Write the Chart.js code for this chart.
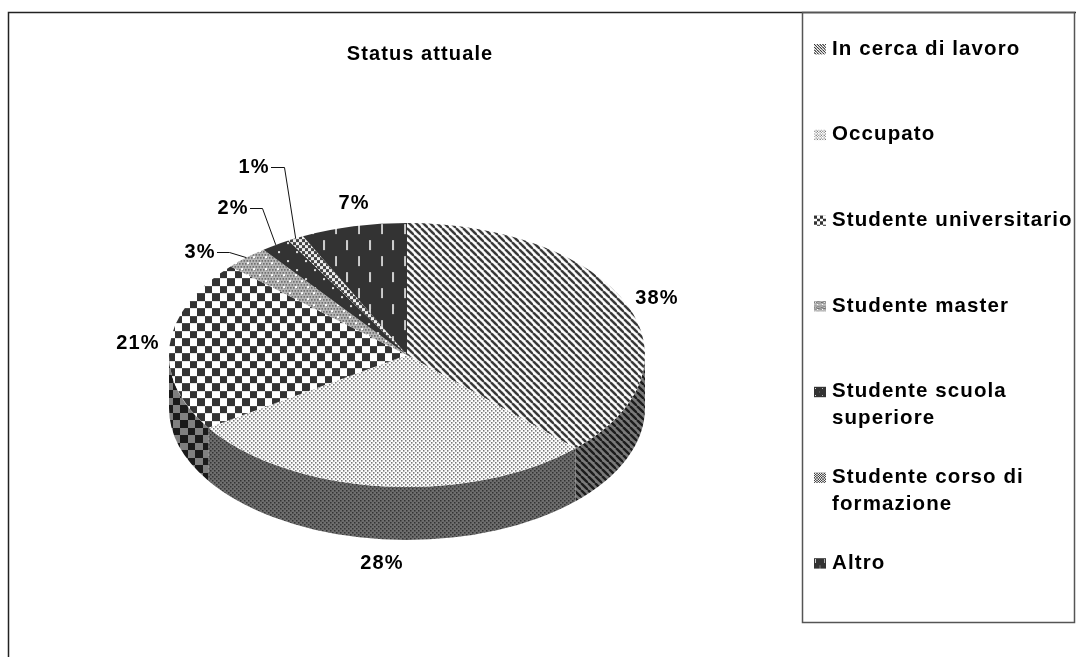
<!DOCTYPE html>
<html>
<head>
<meta charset="utf-8">
<title>Status attuale</title>
<script src="https://cdn.jsdelivr.net/npm/chart.js@4"></script>
<style>
  html, body { margin:0; padding:0; background:#fff; }
  canvas { display:block; }
</style>
</head>
<body>
<canvas id="chart" width="1076" height="657"></canvas>
<script>
/* ----------------- Data ----------------- */
const categories = ["In cerca di lavoro","Occupato","Studente universitario","Studente master","Studente scuola superiore","Studente corso di formazione","Altro"];
const values = [37.5,28.25,21,3,2,1.1,7.2];
const chartTitle = "Status attuale";

/* ----------------- Layout ----------------- */
const PIE = { cx:407, cy:355, rx:238, ry:132, depth:53 };
const FLAT = PIE.ry / PIE.rx;
const labelPos = [[657,298],[382,563],[138,343],[200,252],[233,208],[254,167],[354,203]];
const leaderElbow = { 3:229, 4:262, 5:284 };
const FAMILY = "'Liberation Sans', Arial, sans-serif";
const LABEL_FONT = "bold 20px " + FAMILY;
const LEGEND_FONT = "bold 20.5px " + FAMILY;

/* ----------------- Patterns ----------------- */
function tile(w, paint, h) {
  const c = document.createElement("canvas");
  c.width = w; c.height = h || w;
  paint(c.getContext("2d"), w);
  return c;
}
function stripes(dark, light) {
  return tile(7, (g, s) => {
    g.fillStyle = light; g.fillRect(0,0,s,s);
    g.strokeStyle = dark; g.lineWidth = 2.4;
    [-s,0,s].forEach(o => { g.beginPath(); g.moveTo(o,0); g.lineTo(o+s,s); g.stroke(); });
  });
}
function dots(dark, light) {
  return tile(4, (g, s) => {
    g.fillStyle = light; g.fillRect(0,0,s,s);
    g.fillStyle = dark; g.fillRect(0,0,1.5,1.5); g.fillRect(2,2,1.5,1.5);
  });
}
function checker(dark, light) {
  return tile(15, (g, s) => {
    g.fillStyle = light; g.fillRect(0,0,s,s);
    g.fillStyle = dark; g.fillRect(0,0,8,8); g.fillRect(8,8,7,7);
  });
}
function greyDots() {
  return tile(12, (g, s) => {
    g.fillStyle = "#bbb"; g.fillRect(0,0,s,s);
    g.fillStyle = "#666";
    for (let y=0;y<s;y+=3) for (let x=(y%6?0:1.5);x<s;x+=3) g.fillRect(x,y,1.6,1.6);
    g.fillStyle = "#fff"; g.fillRect(2,2,2,2); g.fillRect(8,8,2,2);
  });
}
function sparseDots() {
  return tile(18, (g, s) => {
    g.fillStyle = "#333"; g.fillRect(0,0,s,s);
    g.fillStyle = "#ddd"; g.fillRect(3,3,2,2); g.fillRect(12,12,2,2);
  });
}
function smallCheck() {
  return tile(6, (g, s) => {
    g.fillStyle = "#eee"; g.fillRect(0,0,s,s);
    g.fillStyle = "#444"; g.fillRect(0,0,3,3); g.fillRect(3,3,3,3);
  });
}
function dashes() {
  return tile(23, (g, s) => {
    g.fillStyle = "#333"; g.fillRect(0,0,s,32);
    g.fillStyle = "#ccc";
    g.fillRect(3,2,2,10); g.fillRect(14,18,2,10);
  }, 32);
}
const topTiles = [stripes("#333","#fff"), dots("#666","#fff"), checker("#333","#fff"), greyDots(), sparseDots(), smallCheck(), dashes()];
const sideTiles = [stripes("#1c1c1c","#7a7a7a"), dots("#333","#6e6e6e"), checker("#1a1a1a","#808080"), greyDots(), sparseDots(), smallCheck(), dashes()];

function toPattern(c, sy) {
  const ctx = document.getElementById("chart").getContext("2d");
  const p = ctx.createPattern(c, "repeat");
  if (sy) p.setTransform(new DOMMatrix().scale(1, sy));
  return p;
}
const topPatterns = topTiles.map(c => toPattern(c, 1 / FLAT));
const sidePatterns = sideTiles.map(c => toPattern(c));

function wrapLabel(ctx, text, maxW) {
  const lines = []; let cur = "";
  text.split(" ").forEach(w => {
    const t = cur ? cur + " " + w : w;
    if (cur && ctx.measureText(t).width > maxW) { lines.push(cur); cur = w; } else cur = t;
  });
  lines.push(cur);
  return lines;
}

/* ----------------- Plugin: 3D pie ----------------- */
const pie3d = {
  id:"pie3d",
  beforeDraw(chart) {
    const ctx = chart.ctx;
    ctx.letterSpacing = "1.1px";
    ctx.fillStyle = "#fff"; ctx.fillRect(0,0,chart.width,chart.height);
    ctx.strokeStyle = "#222"; ctx.lineWidth = 1.5;
    ctx.beginPath(); ctx.moveTo(8.5,657); ctx.lineTo(8.5,12.5); ctx.lineTo(1076,12.5); ctx.stroke();
  },
  beforeDatasetDraw(chart, args) {
    const ctx = chart.ctx, arcs = chart.getDatasetMeta(args.index).data;
    // front wall
    arcs.forEach((arc, i) => {
      const a0 = Math.max(arc.startAngle, 0), a1 = Math.min(arc.endAngle, Math.PI);
      if (a1 <= a0) return;
      ctx.beginPath();
      ctx.ellipse(PIE.cx, PIE.cy, PIE.rx, PIE.ry, 0, a0, a1);
      ctx.ellipse(PIE.cx, PIE.cy + PIE.depth, PIE.rx, PIE.ry, 0, a1, a0, true);
      ctx.closePath();
      ctx.fillStyle = sidePatterns[i];
      ctx.fill();
    });
    // top face, drawn by the arc elements in a squashed context
    ctx.save();
    ctx.translate(PIE.cx, PIE.cy);
    ctx.scale(1, FLAT);
    ctx.translate(-arcs[0].x, -arcs[0].y);
    arcs.forEach(arc => arc.draw(ctx));
    ctx.restore();
    return false;
  },
  afterDatasetsDraw(chart) {
    const ctx = chart.ctx, arcs = chart.getDatasetMeta(0).data;
    ctx.save();
    ctx.font = LABEL_FONT; ctx.fillStyle = "#000"; ctx.textAlign = "center"; ctx.textBaseline = "middle";
    values.forEach((v, i) => ctx.fillText(Math.round(v) + "%", labelPos[i][0], labelPos[i][1]));
    // leader lines
    ctx.strokeStyle = "#111"; ctx.lineWidth = 1;
    Object.keys(leaderElbow).forEach(k => {
      const i = +k, mid = (arcs[i].startAngle + arcs[i].endAngle) / 2;
      const y = labelPos[i][1];
      ctx.beginPath();
      ctx.moveTo(labelPos[i][0] + 17, y + .5);
      ctx.lineTo(leaderElbow[k] + .5, y + .5);
      ctx.lineTo(PIE.cx + Math.cos(mid) * PIE.rx, PIE.cy + Math.sin(mid) * PIE.ry);
      ctx.stroke();
    });
    // legend box
    ctx.strokeStyle = "#555"; ctx.lineWidth = 1.5;
    ctx.strokeRect(802.5, 12.5, 272, 610);
    ctx.textAlign = "left"; ctx.font = LEGEND_FONT;
    categories.forEach((name, i) => {
      const y = 49 + i * 85.7;
      wrapLabel(ctx, name, 244).forEach((line, n) => ctx.fillText(line, 832, y + n * 27));
      ctx.save();
      ctx.translate(814, y - 5);
      ctx.scale(.4, .4);
      ctx.fillStyle = toPattern(topTiles[i]);
      ctx.fillRect(0, 0, 30, 26);
      ctx.restore();
    });
    ctx.restore();
  }
};

/* ----------------- Chart ----------------- */
new Chart(document.getElementById("chart"), {
  type:"pie",
  data:{ labels:categories, datasets:[{ data:values, backgroundColor:topPatterns, borderWidth:0 }] },
  options:{
    responsive:false, animation:false, events:[],
    layout:{ padding:{ left:182, right:418, top:42, bottom:64 } },
    plugins:{
      legend:{ display:false },
      tooltip:{ enabled:false },
      title:{ display:true, text:chartTitle, color:"#000", fullSize:false,
              font:{ family:FAMILY, size:20, weight:"bold" },
              padding:{ top:0, bottom:51 } }
    }
  },
  plugins:[pie3d]
});
</script>
</body>
</html>
